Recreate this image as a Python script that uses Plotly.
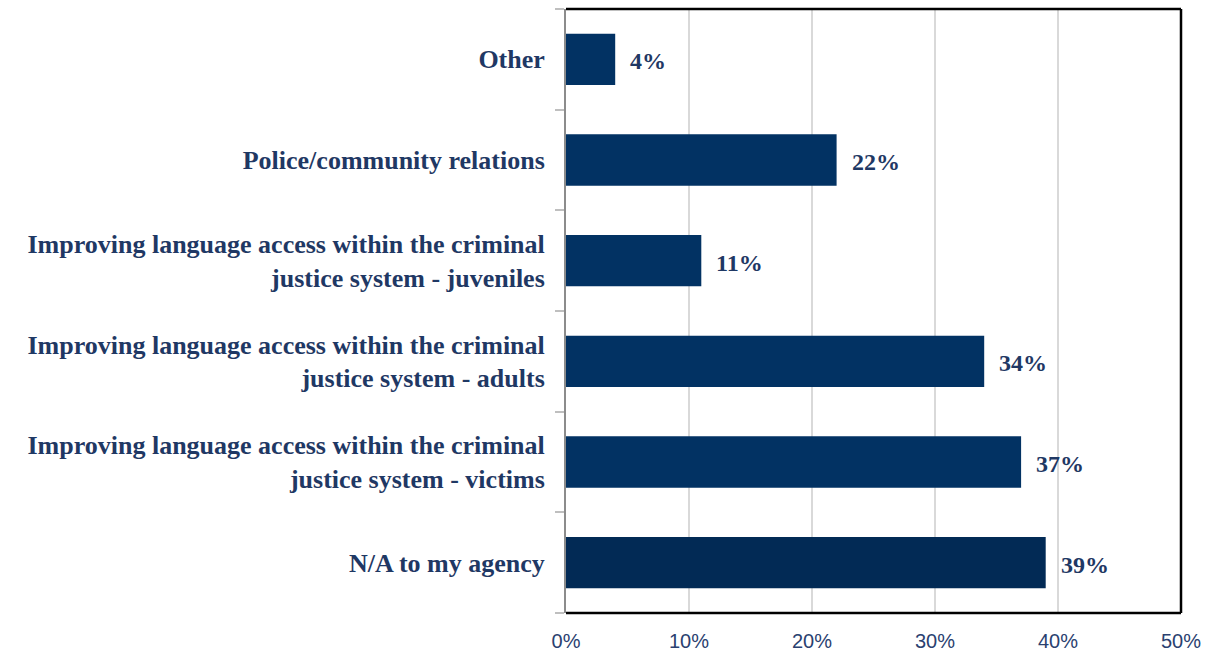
import plotly.graph_objects as go

# Survey responses, listed bottom to top
categories = [
    "N/A to my agency",
    "Improving language access within the criminal<br>justice system - victims",
    "Improving language access within the criminal<br>justice system - adults",
    "Improving language access within the criminal<br>justice system - juveniles",
    "Police/community relations",
    "Other",
]
shares = [39, 37, 34, 11, 22, 4]
x_ticks = [0, 10, 20, 30, 40, 50]
x_tick_labels = ["0%", "10%", "20%", "30%", "40%", "50%"]

bar_colors = ["#022a55"] + ["#023263"] * (len(categories) - 1)
label_color = "#1f3864"
serif = "Liberation Serif, Times New Roman, serif"

fig = go.Figure(
    go.Bar(
        x=shares,
        y=categories,
        orientation="h",
        marker=dict(color=bar_colors, line=dict(width=0)),
        hoverinfo="skip",
    )
)

# Value labels just right of each bar
for cat, val in zip(categories, shares):
    fig.add_annotation(
        x=val, y=cat, text=f"<b>{val}%</b>", showarrow=False,
        xanchor="left", xshift=13, yshift=-2,
        font=dict(family=serif, size=24, color=label_color),
    )

# Frame: black on top, right and bottom
for x0, y0, x1, y1 in [(0, 1, 1, 1), (1, 0, 1, 1), (0, 0, 1, 0)]:
    fig.add_shape(type="line", xref="paper", yref="paper",
                  x0=x0, y0=y0, x1=x1, y1=y1,
                  line=dict(color="black", width=2.5))

fig.update_layout(
    width=1209, height=656,
    margin=dict(l=566, r=28, t=9, b=43),
    paper_bgcolor="white", plot_bgcolor="white",
    bargap=0.49,
    showlegend=False,
    xaxis=dict(
        range=[0, 50], tickvals=x_ticks, ticktext=x_tick_labels,
        showgrid=True, gridcolor="#d9d9d9", gridwidth=2,
        zeroline=False, showline=False,
        ticks="outside", ticklen=10, tickcolor="rgba(0,0,0,0)",
        tickfont=dict(family="Liberation Sans, Arial, sans-serif", size=20, color="#2a4170"),
        automargin=False,
        fixedrange=True,
    ),
    yaxis=dict(
        type="category",
        showline=True, linecolor="#8c8c8c", linewidth=2,
        ticks="outside", ticklen=9, tickcolor="#bfbfbf", tickwidth=1.5,
        tickson="boundaries",
        showgrid=False, zeroline=False,
        tickfont=dict(family=serif, size=26, color=label_color),
        ticklabelstandoff=14,
        automargin=False,
        fixedrange=True,
    ),
)

# bold category labels
fig.update_yaxes(tickvals=categories, ticktext=[f"<b>{c}</b>" for c in categories])

fig.write_html("out.html")
